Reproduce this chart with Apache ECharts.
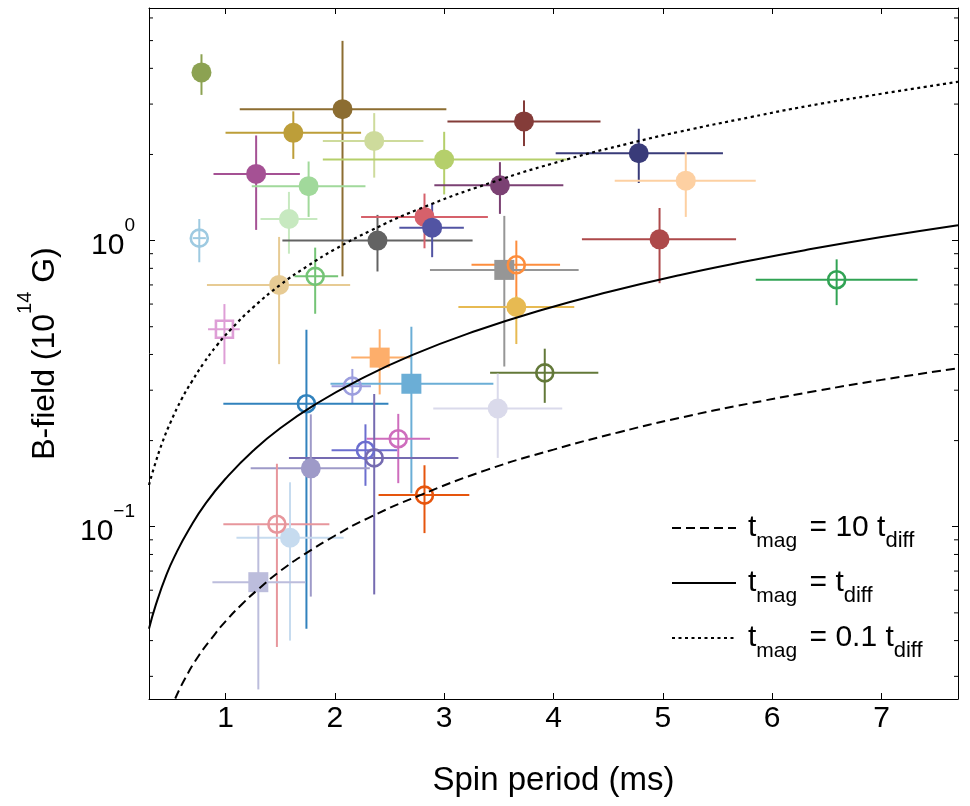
<!DOCTYPE html>
<html>
<head>
<meta charset="utf-8">
<script src="https://cdn.jsdelivr.net/npm/echarts@6/dist/echarts.min.js"></script>
<style>
html, body { margin: 0; padding: 0; background: #ffffff; }
#chart { width: 970px; height: 806px; }
</style>
</head>
<body>
<div id="chart"></div>
<script>
// ---------------- data ----------------
const periods     = [0.78, 2.07, 1.62, 2.36, 3.00, 1.28, 1.76, 1.58, 0.76, 2.39, 2.82, 2.89, 3.73, 3.51, 4.78, 5.21, 4.97, 6.59, 1.49, 1.82, 0.99, 2.41, 2.70, 2.16, 1.74, 3.66, 3.55, 3.66, 3.92, 3.49, 2.58, 2.28, 2.36, 1.78, 2.82, 1.47, 1.59, 1.30];
const periodLow   = [0.78, 1.13, 1.00, 1.89, 1.89, 0.89, 1.24, 1.32, 0.70, 1.52, 2.24, 2.59, 3.03, 2.91, 4.02, 4.56, 4.26, 5.85, 0.83, 1.63, 0.84, 2.15, 1.96, 1.97, 0.98, 3.25, 2.87, 3.13, 3.42, 2.90, 2.29, 1.97, 1.58, 1.23, 2.40, 0.98, 1.10, 0.88];
const periodHigh  = [0.78, 3.02, 2.24, 2.81, 4.12, 1.68, 2.28, 1.84, 0.82, 3.26, 3.40, 3.18, 4.43, 4.09, 5.55, 5.85, 5.67, 7.33, 2.14, 2.03, 1.13, 2.70, 3.45, 2.33, 2.49, 4.06, 4.23, 4.19, 4.41, 4.08, 2.87, 2.57, 3.13, 2.32, 3.23, 1.95, 2.08, 1.73];
const fields      = [3.87, 2.88, 2.38, 2.23, 1.92, 1.71, 1.55, 1.19, 1.02, 1.00, 1.21, 1.11, 2.61, 1.56, 2.02, 1.62, 1.01, 0.73, 0.70, 0.75, 0.49, 0.39, 0.316, 0.31, 0.269, 0.823, 0.79, 0.586, 0.345, 0.259, 0.203, 0.185, 0.174, 0.160, 0.129, 0.102, 0.0915, 0.064];
const fieldLow    = [3.23, 0.75, 1.93, 1.66, 1.45, 1.09, 1.21, 0.90, 0.84, 0.78, 0.94, 0.875, 2.14, 1.24, 1.59, 1.21, 0.71, 0.595, 0.37, 0.555, 0.37, 0.29, 0.131, 0.27, 0.044, 0.62, 0.363, 0.435, 0.271, 0.174, 0.142, 0.139, 0.058, 0.057, 0.095, 0.038, 0.040, 0.027];
const fieldHigh   = [4.48, 4.99, 2.83, 2.79, 2.40, 2.33, 1.89, 1.48, 1.19, 1.23, 1.46, 1.35, 3.09, 1.88, 2.46, 2.04, 1.30, 0.86, 1.03, 0.945, 0.60, 0.49, 0.50, 0.356, 0.488, 1.00, 1.22, 0.64, 0.419, 0.343, 0.248, 0.228, 0.291, 0.247, 0.164, 0.166, 0.143, 0.101];

// style lists (kept apart from the values)
const pointColors = ['#8ca252', '#8c6d31', '#bd9e39', '#cedb9c', '#b5cf6b', '#a55194', '#a1d99b', '#c7e9c0', '#9ecae1', '#636363', '#d6616b', '#5254a3', '#843c39', '#7b4173', '#393b79', '#fdd0a2', '#ad494a', '#31a354', '#e7cb94', '#74c476', '#de9ed6', '#fdae6b', '#6baed6', '#9c9ede', '#3182bd', '#fd8d3c', '#969696', '#e7ba52', '#637939', '#dadaeb', '#ce6dbd', '#6b6ecf', '#756bb1', '#9e9ac8', '#e6550d', '#e7969c', '#c6dbef', '#bcbddc'];
const pointMarkers = ['fc', 'fc', 'fc', 'fc', 'fc', 'fc', 'fc', 'fc', 'oc', 'fc', 'fc', 'fc', 'fc', 'fc', 'fc', 'fc', 'fc', 'oc', 'fc', 'oc', 'os', 'fs', 'fs', 'oc', 'oc', 'oc', 'fs', 'fc', 'oc', 'fc', 'oc', 'oc', 'oc', 'fc', 'oc', 'oc', 'fc', 'fs'];

// reference curves
const curve10Period = [0.54, 0.62, 0.75, 0.90, 1.00, 1.15, 1.31, 1.50, 1.72, 2.00, 2.30, 2.76, 3.39, 4.00, 4.60, 5.15, 5.80, 6.40, 7.00, 7.70];
const curve10Field  = [0.0251, 0.029, 0.0352, 0.042, 0.0467, 0.0536, 0.061, 0.070, 0.080, 0.093, 0.107, 0.128, 0.158, 0.186, 0.214, 0.240, 0.270, 0.298, 0.326, 0.358];
const curve1Period  = [0.30, 0.36, 0.46, 0.55, 0.66, 0.82, 1.02, 1.25, 1.50, 1.83, 2.20, 2.70, 3.30, 3.90, 4.50, 5.15, 5.80, 6.30, 7.00, 7.70];
const curve1Field   = [0.044, 0.053, 0.068, 0.081, 0.097, 0.121, 0.150, 0.184, 0.221, 0.269, 0.323, 0.397, 0.485, 0.573, 0.661, 0.757, 0.852, 0.926, 1.029, 1.132];
const curve01Period = [0.30, 0.35, 0.42, 0.50, 0.60, 0.69, 0.80, 0.92, 1.05, 1.25, 1.50, 1.75, 2.00, 2.32, 2.76, 3.42, 4.12, 4.70, 5.15, 5.80, 6.34, 7.00, 7.70];
const curve01Field  = [0.140, 0.163, 0.196, 0.233, 0.280, 0.321, 0.373, 0.430, 0.490, 0.583, 0.700, 0.815, 0.932, 1.080, 1.285, 1.590, 1.920, 2.190, 2.400, 2.700, 2.960, 3.260, 3.590];

const xTickValues = [1, 2, 3, 4, 5, 6, 7];
const yMinorTicks = [0.03, 0.04, 0.05, 0.06, 0.07, 0.08, 0.09, 0.2, 0.3, 0.4, 0.5, 0.6, 0.7, 0.8, 0.9, 2, 3, 4, 5, 6];
const xTitle = 'Spin period (ms)';
const yTitle = 'B-field (10{s|14} G)';
const curveNames = ['tmag10', 'tmag1', 'tmag01'];
const curveLabels = {
  tmag10: '{t0|t}{s0|mag}{m| = 10 t}{s|diff}',
  tmag1:  '{t0|t}{s0|mag}{m| = t}{s|diff}',
  tmag01: '{t0|t}{s0|mag}{m| = 0.1 t}{s|diff}'
};

// ---------------- chart ----------------
const FONT = '"Liberation Sans", Arial, Helvetica, sans-serif';
const X_MIN = 0.3, X_MAX = 7.7, Y_MIN = 0.025, Y_MAX = 6.5;

const errorData = periods.map((p, i) => [p, fields[i], periodLow[i], periodHigh[i], fieldLow[i], fieldHigh[i]]);

function markerData(kind, open) {
  const out = [];
  periods.forEach((p, i) => {
    if (pointMarkers[i] !== kind) return;
    out.push({
      value: [p, fields[i]],
      itemStyle: open
        ? { color: 'rgba(255,255,255,0)', borderColor: pointColors[i], borderWidth: 2.6, opacity: 1 }
        : { color: pointColors[i], borderWidth: 0, opacity: 1 }
    });
  });
  return out;
}

function pairs(xs, ys) { return xs.map((x, i) => [x, ys[i]]); }

const chart = echarts.init(document.getElementById('chart'), null, { renderer: 'canvas' });

const axisLine = { show: true, lineStyle: { color: '#000', width: 1 } };

const option = {
  animation: false,
  backgroundColor: '#ffffff',
  textStyle: { fontFamily: FONT, color: '#000' },
  grid: { left: 149, right: 12, top: 8, bottom: 107, containLabel: false, outerBoundsMode: 'none' },
  legend: {
    data: curveNames,
    orient: 'vertical',
    left: 671,
    top: 504,
    padding: 0,
    itemWidth: 64,
    itemHeight: 14,
    itemGap: 7,
    selectedMode: false,
    itemStyle: { opacity: 0 },
    formatter: name => curveLabels[name],
    textStyle: {
      fontFamily: FONT, color: '#000',
      rich: {
        t0: { fontFamily: FONT, fontSize: 30, lineHeight: 50, color: '#000', padding: [0, 0, 0, 7] },
        m:  { fontFamily: FONT, fontSize: 30, lineHeight: 50, color: '#000' },
        s0: { fontFamily: FONT, fontSize: 21, lineHeight: 50, color: '#000', padding: [26, 4, 0, 0] },
        s:  { fontFamily: FONT, fontSize: 22, lineHeight: 50, color: '#000', padding: [26, 0, 0, 0] }
      }
    }
  },
  xAxis: [
    {
      type: 'value', min: X_MIN, max: X_MAX, position: 'bottom',
      name: xTitle, nameLocation: 'middle', nameGap: 65,
      nameTextStyle: { fontFamily: FONT, fontSize: 33, color: '#000' },
      axisLine: axisLine,
      axisTick: { show: true, inside: true, length: 6, customValues: xTickValues, lineStyle: { color: '#000', width: 1 } },
      axisLabel: { show: true, customValues: xTickValues, margin: 5, fontFamily: FONT, fontSize: 30, color: '#000' },
      splitLine: { show: false }
    },
    {
      type: 'value', min: X_MIN, max: X_MAX, position: 'top',
      axisLine: axisLine,
      axisTick: { show: true, inside: true, length: 6, customValues: xTickValues, lineStyle: { color: '#000', width: 1 } },
      axisLabel: { show: false },
      splitLine: { show: false }
    }
  ],
  yAxis: [
    {
      type: 'log', logBase: 10, min: Y_MIN, max: Y_MAX, position: 'left',
      name: yTitle, nameLocation: 'middle', nameGap: 74, nameRotate: 90,
      nameTextStyle: {
        fontFamily: FONT, fontSize: 32, color: '#000',
        rich: {
          s: { fontFamily: FONT, fontSize: 20, color: '#000', padding: [0, 0, 40, 0] }
        }
      },
      axisLine: axisLine,
      axisTick: { show: true, inside: true, length: 6, lineStyle: { color: '#000', width: 1 } },
      axisLabel: {
        show: true, margin: 14, showMinLabel: false, showMaxLabel: false,
        formatter: function (v) {
          const l = Math.log10(v);
          const e = Math.round(l);
          if (Math.abs(l - e) > 1e-6) return '';
          return '{b|10}{p|' + (e < 0 ? '\u2212' + (-e) : String(e)) + '}';
        },
        rich: {
          b: { fontFamily: FONT, fontSize: 30, color: '#000', padding: [11, 0, 0, 0] },
          p: { fontFamily: FONT, fontSize: 19, color: '#000', padding: [0, 0, 29, 0] }
        }
      },
      splitLine: { show: false },
      minorTick: { show: false }
    },
    {
      type: 'log', logBase: 10, min: Y_MIN, max: Y_MAX, position: 'right',
      axisLine: axisLine,
      axisTick: { show: true, inside: true, length: 6, lineStyle: { color: '#000', width: 1 } },
      axisLabel: { show: false },
      splitLine: { show: false }
    }
  ],
  series: [
    {
      type: 'custom', name: 'minorTicks', silent: true, z: 1,
      data: yMinorTicks.map(v => [X_MIN, v]),
      encode: { x: 0, y: 1 },
      renderItem: function (params, api) {
        const v = api.value(1);
        const l = api.coord([X_MIN, v]);
        const r = api.coord([X_MAX, v]);
        const st = { stroke: '#000', lineWidth: 1 };
        return {
          type: 'group',
          children: [
            { type: 'line', shape: { x1: l[0], y1: l[1], x2: l[0] + 4, y2: l[1] }, style: st },
            { type: 'line', shape: { x1: r[0], y1: r[1], x2: r[0] - 4, y2: r[1] }, style: st }
          ]
        };
      }
    },
    {
      type: 'custom', name: 'errors', silent: true, z: 2,
      data: errorData,
      encode: { x: 0, y: 1 },
      renderItem: function (params, api) {
        const i = params.dataIndex;
        const p = api.value(0), b = api.value(1);
        const a = api.coord([api.value(2), b]);
        const c = api.coord([api.value(3), b]);
        const d = api.coord([p, api.value(4)]);
        const e = api.coord([p, api.value(5)]);
        const st = { stroke: pointColors[i], lineWidth: 2 };
        return {
          type: 'group',
          children: [
            { type: 'line', shape: { x1: a[0], y1: a[1], x2: c[0], y2: c[1] }, style: st },
            { type: 'line', shape: { x1: d[0], y1: d[1], x2: e[0], y2: e[1] }, style: st }
          ]
        };
      }
    },
    { type: 'scatter', name: 'filledCircle', silent: true, z: 3, symbol: 'circle', symbolSize: 20, itemStyle: { opacity: 1 }, data: markerData('fc', false) },
    { type: 'scatter', name: 'filledSquare', silent: true, z: 3, symbol: 'rect', symbolSize: 20, itemStyle: { opacity: 1 }, data: markerData('fs', false) },
    { type: 'scatter', name: 'openCircle', silent: true, z: 3, symbol: 'circle', symbolSize: 17, itemStyle: { opacity: 1 }, data: markerData('oc', true) },
    { type: 'scatter', name: 'openSquare', silent: true, z: 3, symbol: 'rect', symbolSize: 17, itemStyle: { opacity: 1 }, data: markerData('os', true) },
    {
      type: 'line', name: 'tmag10', z: 4, silent: true, smooth: true, symbol: 'none', showSymbol: false,
      data: pairs(curve10Period, curve10Field),
      lineStyle: { color: '#000', width: 2, type: [9, 5] }, itemStyle: { color: '#000' }
    },
    {
      type: 'line', name: 'tmag1', z: 4, silent: true, smooth: true, symbol: 'none', showSymbol: false,
      data: pairs(curve1Period, curve1Field),
      lineStyle: { color: '#000', width: 2, type: 'solid' }, itemStyle: { color: '#000' }
    },
    {
      type: 'line', name: 'tmag01', z: 4, silent: true, smooth: true, symbol: 'none', showSymbol: false,
      data: pairs(curve01Period, curve01Field),
      lineStyle: { color: '#000', width: 2.2, type: [3, 3.5] }, itemStyle: { color: '#000' }
    }
  ]
};

chart.setOption(option);
</script>
</body>
</html>
